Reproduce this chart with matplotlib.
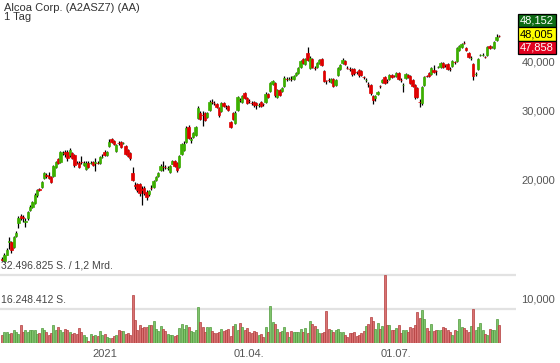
import matplotlib.pyplot as plt
from matplotlib.ticker import NullLocator
from matplotlib.patches import Rectangle

plt.rcParams['font.family'] = ['Liberation Sans', 'DejaVu Sans']

title = "Alcoa Corp. (A2ASZ7) (AA)"
period = "1 Tag"

# Tageskerzen (Open, High, Low, Close)
opens = [
    12.61, 12.40, 12.90, 13.90, 13.86, 13.52, 14.36, 15.49, 16.23, 16.05,
    15.62, 15.95, 16.81, 17.10, 17.50, 18.33, 18.92, 19.21, 20.25, 20.55,
    20.49, 20.37, 20.49, 21.60, 22.64, 22.25, 23.40, 23.59, 23.59, 23.18,
    23.45, 23.18, 22.15, 22.12, 22.27, 21.86, 21.35, 22.12, 22.08, 22.25,
    22.10, 22.15, 22.12, 22.88, 23.59, 23.18, 24.44, 25.47, 25.17, 23.73,
    24.90, 25.02, 24.84, 24.44, 23.87, 23.45, 20.86, 19.36, 19.55, 19.55,
    18.92, 19.10, 18.66, 18.44, 19.13, 19.21, 20.02, 20.49, 21.23, 21.63,
    21.63, 21.45, 20.98, 21.99, 22.38, 22.12, 21.60, 23.32, 23.87, 25.02,
    27.31, 25.28, 25.77, 26.07, 28.79, 29.64, 29.33, 29.64, 28.95, 30.17,
    31.65, 31.46, 31.25, 30.52, 29.99, 31.43, 30.74, 30.88, 28.12, 29.64,
    27.96, 30.17, 32.03, 31.62, 33.32, 32.36, 31.83, 31.46, 31.62, 31.43,
    31.03, 31.62, 31.28, 31.62, 33.13, 33.72, 35.13, 35.33, 32.55, 33.91,
    33.72, 34.72, 36.20, 36.14, 36.20, 36.17, 37.03, 37.47, 38.81, 40.68,
    39.50, 42.14, 38.59, 40.68, 38.62, 38.81, 39.74, 40.68, 37.91, 35.78,
    35.99, 35.54, 36.17, 34.92, 37.03, 38.36, 39.74, 40.21, 38.62, 38.39,
    38.36, 38.36, 37.72, 38.14, 37.91, 36.63, 35.93, 35.16, 34.92, 32.75,
    32.36, 33.13, 34.75, 35.54, 36.60, 35.78, 36.17, 37.03, 36.85, 36.82,
    37.47, 35.99, 34.89, 36.39, 37.03, 36.82, 35.96, 34.92, 34.31, 31.65,
    31.43, 34.92, 36.85, 37.47, 37.25, 38.14, 37.94, 38.78, 38.81, 39.74,
    39.30, 39.50, 38.39, 39.04, 40.00, 40.21, 42.89, 43.65, 44.72, 43.40,
    42.14, 40.89, 39.50, 37.22, 38.36, 41.62, 41.62, 41.19, 41.65, 43.91,
    43.62, 43.40, 45.48, 46.59,
]
highs = [
    12.70, 13.00, 13.40, 14.30, 14.00, 14.40, 14.80, 16.20, 16.40, 16.30,
    16.00, 16.70, 17.30, 17.70, 18.50, 19.00, 19.10, 19.90, 21.00, 20.80,
    20.90, 20.50, 21.85, 22.40, 22.80, 23.70, 23.70, 23.80, 23.80, 24.10,
    23.60, 23.30, 22.40, 22.30, 23.00, 22.30, 22.30, 22.40, 22.40, 22.40,
    22.80, 22.30, 23.00, 23.30, 23.80, 23.75, 25.40, 25.60, 25.30, 24.70,
    25.20, 25.20, 25.00, 24.60, 24.00, 23.60, 21.60, 19.80, 19.70, 19.70,
    19.30, 19.30, 18.80, 18.90, 19.40, 20.00, 20.50, 21.00, 21.90, 22.30,
    21.80, 21.70, 21.85, 22.50, 22.50, 22.20, 23.20, 24.90, 25.10, 27.40,
    27.60, 25.80, 26.50, 27.50, 30.80, 29.90, 30.00, 29.80, 29.80, 31.90,
    32.20, 31.70, 31.40, 30.70, 31.60, 31.60, 31.00, 31.00, 28.30, 29.80,
    29.90, 32.80, 32.30, 32.90, 33.60, 32.50, 32.10, 31.80, 31.80, 31.60,
    31.40, 31.80, 31.50, 33.50, 33.30, 35.60, 36.00, 35.50, 34.10, 34.10,
    34.50, 36.80, 36.50, 36.60, 36.80, 37.00, 37.70, 38.80, 40.40, 41.00,
    40.90, 43.60, 41.40, 40.90, 39.00, 39.90, 40.60, 40.90, 38.10, 36.00,
    36.40, 36.40, 36.40, 36.20, 38.80, 39.40, 40.80, 40.50, 39.00, 38.80,
    38.50, 38.60, 38.00, 38.40, 38.10, 36.90, 36.30, 35.50, 35.10, 33.00,
    33.00, 33.70, 35.00, 36.20, 36.80, 36.10, 37.30, 37.20, 37.10, 37.70,
    37.70, 36.30, 35.30, 37.40, 37.30, 37.00, 36.10, 35.10, 34.50, 32.10,
    34.70, 36.90, 37.10, 37.70, 38.80, 39.30, 38.20, 39.10, 39.90, 39.90,
    39.60, 39.70, 38.70, 40.40, 40.30, 43.60, 44.20, 44.70, 45.20, 43.60,
    42.40, 41.30, 39.80, 37.60, 40.90, 42.00, 42.10, 41.50, 43.90, 44.10,
    44.00, 45.20, 47.20, 46.90,
]
lows = [
    12.40, 12.35, 12.85, 13.30, 13.00, 13.45, 14.30, 15.10, 15.80, 15.60,
    15.20, 15.80, 16.70, 17.00, 17.40, 18.10, 18.70, 19.10, 20.10, 20.20,
    20.10, 19.60, 20.40, 21.50, 22.00, 22.10, 23.20, 22.90, 22.40, 22.90,
    22.60, 21.60, 21.90, 21.40, 21.90, 21.70, 21.20, 21.45, 21.90, 21.70,
    21.10, 21.90, 22.00, 22.70, 23.00, 23.05, 24.30, 24.80, 24.60, 23.60,
    24.50, 24.10, 24.70, 23.20, 22.90, 22.50, 19.90, 19.00, 18.60, 18.20,
    17.30, 18.30, 17.80, 18.20, 18.80, 19.10, 19.90, 20.40, 21.10, 21.10,
    21.30, 21.20, 20.85, 21.90, 21.60, 21.00, 21.40, 23.20, 23.70, 24.80,
    25.40, 24.80, 25.60, 25.90, 28.60, 28.40, 27.40, 28.20, 28.80, 30.00,
    31.20, 31.10, 30.50, 29.00, 29.80, 30.70, 30.40, 29.90, 27.10, 28.40,
    27.80, 30.00, 31.60, 31.40, 32.20, 31.20, 31.50, 31.00, 30.60, 30.40,
    30.70, 30.60, 30.90, 31.40, 32.30, 33.50, 34.90, 32.60, 32.30, 32.70,
    33.50, 34.50, 35.80, 35.90, 35.70, 36.00, 36.90, 37.30, 38.60, 39.50,
    39.30, 40.20, 38.30, 38.50, 38.20, 38.60, 39.50, 39.00, 35.50, 35.20,
    35.50, 35.30, 34.50, 34.70, 36.80, 38.10, 39.50, 39.30, 38.30, 38.00,
    36.90, 37.00, 37.30, 36.70, 36.80, 36.20, 35.60, 34.60, 33.00, 31.30,
    31.80, 32.90, 34.30, 35.40, 35.10, 35.40, 35.90, 36.40, 36.50, 36.60,
    35.90, 35.60, 33.50, 36.10, 36.40, 35.10, 34.50, 32.20, 32.30, 30.60,
    31.00, 34.70, 36.50, 36.60, 37.00, 37.50, 37.00, 38.50, 38.60, 38.50,
    38.90, 38.10, 37.90, 38.80, 39.60, 40.00, 42.60, 43.40, 44.30, 42.60,
    40.90, 40.50, 36.00, 36.90, 38.10, 41.30, 41.30, 40.80, 41.40, 43.20,
    43.30, 43.10, 45.30, 46.20,
]
closes = [
    12.47, 12.90, 13.28, 13.98, 13.28, 14.28, 14.61, 15.95, 15.95, 15.96,
    15.70, 16.61, 17.10, 17.60, 18.33, 18.88, 18.85, 19.78, 20.86, 20.49,
    20.25, 19.78, 21.73, 22.25, 22.12, 23.59, 23.47, 23.32, 22.78, 23.87,
    22.78, 21.86, 22.10, 21.60, 22.22, 22.12, 22.12, 21.60, 22.14, 21.86,
    22.16, 22.10, 22.91, 22.94, 23.18, 23.59, 25.02, 25.02, 24.73, 24.58,
    24.85, 24.30, 24.90, 23.32, 23.05, 22.78, 20.02, 19.30, 18.88, 18.55,
    18.85, 18.55, 18.12, 18.77, 19.07, 19.90, 20.37, 20.86, 21.73, 21.57,
    21.57, 21.51, 21.73, 22.38, 21.73, 21.23, 23.05, 24.73, 24.73, 27.15,
    25.62, 25.36, 26.38, 27.31, 30.52, 28.62, 29.27, 28.45, 29.64, 31.62,
    31.58, 31.40, 30.70, 29.30, 31.43, 30.88, 30.67, 30.17, 27.31, 28.62,
    29.64, 32.55, 31.96, 32.75, 32.36, 31.43, 31.76, 31.40, 31.06, 31.06,
    31.10, 30.88, 31.22, 33.13, 32.55, 35.33, 35.75, 32.94, 33.91, 32.94,
    34.31, 36.39, 36.14, 36.20, 36.14, 36.82, 37.47, 38.59, 40.21, 39.74,
    40.68, 40.44, 40.92, 38.81, 38.56, 39.74, 40.44, 39.27, 35.75, 35.72,
    35.93, 36.17, 34.72, 35.96, 38.59, 39.27, 40.44, 39.50, 38.56, 38.33,
    37.25, 37.47, 37.66, 37.03, 37.03, 36.57, 35.99, 35.10, 33.32, 31.99,
    32.75, 33.52, 34.69, 35.96, 35.33, 35.72, 37.03, 36.60, 36.79, 37.47,
    36.17, 35.93, 34.95, 37.25, 36.60, 35.33, 34.72, 32.55, 32.55, 31.59,
    34.51, 36.60, 36.79, 36.82, 38.59, 37.69, 37.88, 38.84, 39.74, 38.81,
    39.24, 38.36, 38.33, 40.21, 39.94, 43.40, 43.91, 44.43, 44.66, 42.89,
    41.16, 40.95, 36.82, 37.28, 40.68, 41.68, 41.68, 41.13, 43.65, 43.40,
    43.68, 44.95, 46.29, 46.53,
]
# Umsatz in Mio. Stueck
volumes = [
    3.7, 5.3, 5.3, 4.5, 4.8, 6.1, 5.3, 4.5, 8.4, 5.3,
    6.4, 5.3, 6.4, 6.1, 6.4, 4.5, 4.8, 7.3, 6.4, 5.3,
    3.7, 4.8, 8.4, 6.1, 7.6, 6.1, 5.3, 6.9, 6.1, 5.3,
    4.1, 4.8, 4.5, 7.2, 5.3, 3.7, 2.9, 1.0, 4.1, 3.2,
    3.7, 3.2, 5.7, 3.7, 4.5, 2.9, 2.5, 2.5, 3.2, 3.7,
    6.1, 5.7, 5.7, 4.2, 5.0, 3.9, 23.1, 11.2, 6.1, 8.4,
    7.2, 7.6, 7.6, 8.4, 8.4, 10.5, 6.9, 5.7, 8.0, 6.5,
    5.7, 4.5, 3.7, 3.7, 3.2, 3.7, 7.2, 9.2, 6.9, 8.4,
    7.6, 5.7, 5.3, 6.1, 17.2,
    10.2, 7.5, 5.4, 7.5, 7.8, 5.9, 4.6, 4.6, 5.1, 6.7,
    5.8, 6.4, 6.7, 3.5, 8.3, 9.1, 6.2, 9.6, 7.8, 6.2,
    7.0, 5.4, 4.6, 5.6, 5.1, 4.0, 4.3, 3.0, 7.8, 5.4,
    17.8, 10.2, 9.1, 6.7, 5.1, 5.9, 7.5, 5.4, 3.0, 5.9,
    5.4, 5.1, 5.1, 6.7, 5.1, 7.0, 4.6, 10.7, 9.1, 8.3,
    6.7, 4.6, 4.6, 5.4, 15.5, 6.7, 6.2, 5.4, 6.2, 6.7,
    5.4, 5.4, 4.0, 3.0, 4.6, 4.6, 5.1, 3.5, 4.0, 4.6,
    5.6, 8.3, 9.1, 12.3, 10.7, 6.7, 9.4, 6.7, 8.3, 32.5,
    8.8, 8.4, 6.1, 6.1, 7.3, 8.4, 4.8, 6.1, 6.4, 5.3,
    7.6, 7.2, 8.4, 14.8, 12.1, 15.6, 11.6, 7.3, 5.7, 8.9,
    5.5, 6.1, 6.1, 6.4, 7.6, 7.3, 6.4, 5.3, 3.7, 6.4,
    5.6, 11.3, 7.6, 7.2, 6.1, 5.3, 8.0, 16.1, 6.1, 7.6,
    9.6, 6.1, 4.5, 3.7, 6.9, 6.1, 6.1, 11.6, 8.4,
]

x_ticks = [44, 106, 169]
x_labels = ["2021", "01.04.", "01.07."]
price_ticks = [10, 20, 30, 40]
price_labels = ["10,000", "20,000", "30,000", "40,000"]
vol_lines = [16.248412, 32.496825]
vol_labels = ["16.248.412 S.", "32.496.825 S. / 1,2 Mrd."]
quote_labels = ["48,152", "48,005", "47,858"]

W, H = 560, 363
fig = plt.figure(figsize=(W / 100, H / 100), dpi=100)

ax = fig.add_axes([0, 20 / H, 516 / W, 343 / H])
ax.set_yscale('log')
ax.set_ylim(7.68, 57.5)
ax.set_xlim(-0.86, 220.3)
for s in ax.spines.values():
    s.set_visible(False)

idx = list(range(len(closes)))
up = [c >= o for o, c in zip(opens, closes)]
body_col = ['#3cb000' if u else '#e00000' for u in up]
bottoms = [min(o, c) for o, c in zip(opens, closes)]
heights = [abs(c - o) for o, c in zip(opens, closes)]

ax.vlines(idx, lows, highs, color='black', lw=0.9, zorder=2)
ax.bar(idx, heights, bottom=bottoms, width=1.0, color=body_col,
       edgecolor=body_col, linewidth=0.5, zorder=3)

ax.yaxis.tick_right()
ax.set_yticks(price_ticks)
ax.set_yticklabels(price_labels)
ax.yaxis.set_minor_locator(NullLocator())
ax.tick_params(axis='y', length=0, pad=4, labelsize=8, labelcolor='#555555')
ax.set_xticks(x_ticks)
ax.set_xticklabels(x_labels)
ax.tick_params(axis='x', length=0, pad=4, labelsize=8, labelcolor='#555555')

# Volumen
ax2 = fig.add_axes([0, 20 / H, 516 / W, 343 / H])
ax2.axis('off')
ax2.set_xlim(-0.86, 220.3)
ax2.set_ylim(0, 343 / 34 * 16.248412)
for v, lab in zip(vol_lines, vol_labels):
    ax2.axhline(v, color='#e2e2e2', lw=1.6, zorder=0)
    ax2.annotate(lab, (-0.5, v), xytext=(0, 3), textcoords='offset points',
                 ha='left', va='bottom', fontsize=7.5, color='#444444')
vol_face = ['#80c46c' if u else '#d97272' for u in up]
vol_edge = ['#4f9a3c' if u else '#b23c3c' for u in up]
ax2.bar(idx, volumes, width=0.85, color=vol_face, edgecolor=vol_edge,
        linewidth=0.5, zorder=2)

# Kursboxen rechts oben
box_face = ['#0d6b14', '#ffff00', '#e2001f']
box_text = ['white', 'black', 'white']
for i, lab in enumerate(quote_labels):
    top = 14 + 13.3 * i
    fig.add_artist(Rectangle((518 / W, 1 - (top + 13.3) / H), 38 / W, 13.3 / H,
                             transform=fig.transFigure, facecolor=box_face[i],
                             edgecolor='black', lw=0.9))
    fig.text(537 / W, 1 - (top + 6.8) / H, lab, ha='center', va='center',
             fontsize=8, color=box_text[i])

fig.text(4 / W, 1 - 3 / H, title, ha='left', va='top', fontsize=8, color='#333333')
fig.text(4 / W, 1 - 12.5 / H, period, ha='left', va='top', fontsize=8, color='#333333')

fig.savefig('out.png', dpi=100)
